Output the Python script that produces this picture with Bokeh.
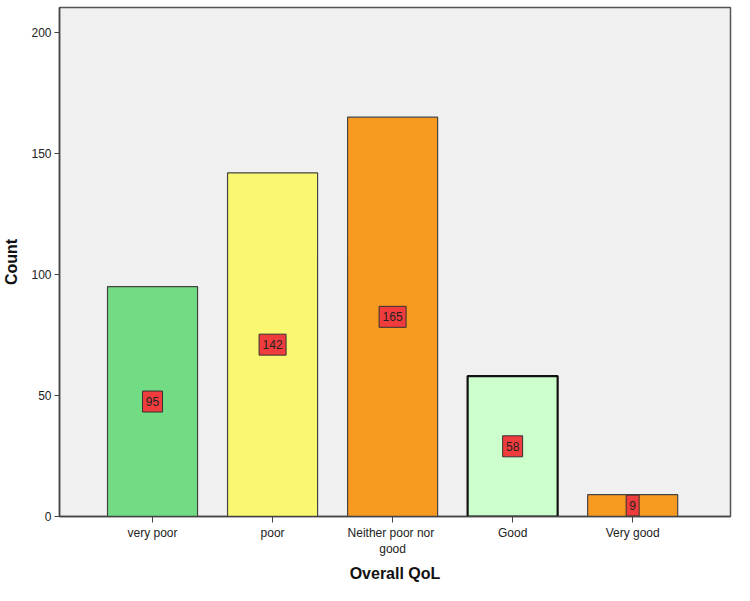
from bokeh.plotting import figure
from bokeh.models import ColumnDataSource, FixedTicker, Range1d
from bokeh.core.properties import value
from bokeh.embed import file_html
from bokeh.resources import INLINE

categories = ["very poor", "poor", "Neither  poor nor\ngood", "Good", "Very good"]
counts = [95, 142, 165, 58, 9]
bar_colors = ["#72DC84", "#FAF870", "#F89A20", "#CCFFCC", "#F89A20"]
outline_colors = ["#444444", "#444444", "#444444", "#111111", "#444444"]
outline_widths = [1.2, 1.2, 1.2, 2.2, 1.2]
y_ticks = [0, 50, 100, 150, 200]

xs = list(range(len(categories)))
src = ColumnDataSource(dict(
    x=xs, top=counts, fill=bar_colors, lc=outline_colors, lw=outline_widths,
    mid=[c / 2 for c in counts], lab=[str(c) for c in counts],
    bw=[len(str(c)) * 7 + 6 for c in counts],
))

p = figure(width=734, height=585, output_backend="svg", toolbar_location=None,
           x_range=Range1d(-0.775, 4.815), y_range=Range1d(0, 210.3),
           min_border_left=57, min_border_right=4, min_border_top=7, min_border_bottom=65)

p.background_fill_color = "#F0F0F0"
p.border_fill_color = "white"
p.outline_line_color = "#555555"
p.outline_line_width = 1.5
p.xgrid.visible = False
p.ygrid.visible = False

p.vbar(x="x", top="top", bottom=0, width=0.75, source=src,
       fill_color="fill", line_color="lc", line_width="lw")

p.rect(x="x", y="mid", width="bw", height=21, width_units="screen", height_units="screen",
       source=src, fill_color="#F03C3C", line_color="#333333", line_width=1)
p.text(x="x", y="mid", text="lab", source=src, text_align="center", text_baseline="middle",
       text_font=value("Liberation Sans"), text_font_size="12px", text_color="#222222")

xa = p.xaxis[0]
xa.ticker = FixedTicker(ticks=xs)
xa.major_label_overrides = {i: c for i, c in enumerate(categories)}
xa.minor_tick_line_color = None
xa.major_tick_out = 6
xa.major_tick_in = 0
xa.axis_line_color = "#444444"
xa.axis_line_width = 1.5
xa.major_tick_line_color = "#444444"
xa.major_label_text_font = "Liberation Sans"
xa.major_label_text_font_size = "12px"
xa.major_label_text_color = "#222222"
xa.major_label_standoff = 3
xa.axis_label = "Overall QoL"
xa.axis_label_text_font = "Liberation Sans"
xa.axis_label_text_font_style = "bold"
xa.axis_label_text_font_size = "16px"
xa.axis_label_text_color = "#111111"
xa.axis_label_standoff = 6

ya = p.yaxis[0]
ya.ticker = FixedTicker(ticks=y_ticks)
ya.minor_tick_line_color = None
ya.major_tick_out = 5
ya.major_tick_in = 0
ya.axis_line_color = "#444444"
ya.axis_line_width = 1.5
ya.major_tick_line_color = "#444444"
ya.major_label_text_font = "Liberation Sans"
ya.major_label_text_font_size = "12px"
ya.major_label_text_color = "#222222"
ya.major_label_standoff = 3
ya.axis_label = "Count"
ya.axis_label_text_font = "Liberation Sans"
ya.axis_label_text_font_style = "bold"
ya.axis_label_text_font_size = "16px"
ya.axis_label_text_color = "#111111"
ya.axis_label_standoff = 8

open("out.html", "w").write(file_html(p, INLINE))
